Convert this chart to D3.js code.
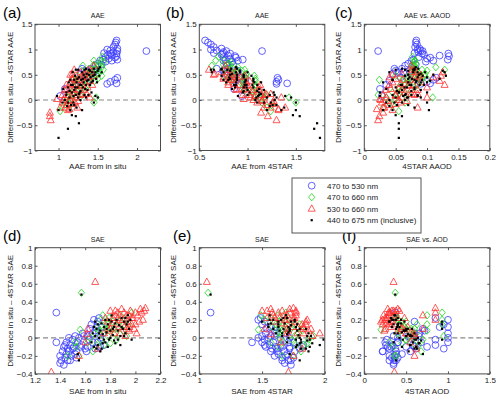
<!DOCTYPE html>
<html>
<head>
<meta charset="utf-8">
<script src="https://cdn.jsdelivr.net/npm/d3@7"></script>
<style>
  body { margin: 0; background: #fff; }
  svg { display: block; font-family: "Liberation Sans", Arial, sans-serif; }
  .tick text { font-size: 8px; fill: #1a1a1a; }
</style>
</head>
<body>
<div id="chart"></div>
<script>
// top row rows: [AAE in situ, difference (in situ - 4STAR), 4STAR AAOD]
const aaeBlue = [
  [1.74,1.18,0.083],[1.73,1.14,0.082],[1.72,1.10,0.084],[1.70,1.05,0.081],[1.75,1.02,0.088],
  [1.62,1.00,0.085],[1.66,0.98,0.09],[1.75,0.97,0.093],[1.70,0.95,0.086],[1.58,0.93,0.08],
  [1.74,0.92,0.134],[1.63,0.90,0.095],[1.68,0.88,0.12],[1.74,0.87,0.135],[1.60,0.85,0.087],
  [1.72,0.84,0.105],[1.64,0.82,0.1],[1.75,0.80,0.133],[1.57,0.80,0.078],[1.68,0.78,0.11],
  [1.60,0.76,0.098],[1.66,0.92,0.092],[2.12,0.97,0.022],
  [1.62,0.32,0.09],[1.66,0.36,0.1],[1.72,0.40,0.11],[1.75,0.44,0.115],[1.74,0.33,0.105],
  [1.08,0.22,0.025],[1.02,0.08,0.028],
  [1.30,0.62,0.048],[1.33,0.58,0.05],[1.28,0.52,0.045],[1.38,0.55,0.055],[1.42,0.62,0.06],
  [1.47,0.68,0.065],[1.50,0.72,0.07],[1.53,0.78,0.075],[1.45,0.55,0.062],[1.36,0.45,0.058],
  [1.25,0.38,0.04],[1.40,0.42,0.07],[1.22,0.30,0.035],[1.48,0.58,0.072],[1.55,0.70,0.082]
];
const aaeGreen = [
  [1.02,-0.22,0.055],[1.05,-0.15,0.03],[1.10,-0.05,0.04],[1.12,0.05,0.035],[1.15,0.15,0.045],
  [1.18,0.10,0.05],[1.20,0.25,0.055],[1.22,0.05,0.06],[1.25,0.30,0.065],[1.27,0.20,0.06],
  [1.30,0.35,0.07],[1.32,0.45,0.068],[1.35,0.40,0.075],[1.37,0.52,0.08],[1.40,0.45,0.072],
  [1.42,0.60,0.078],[1.44,0.55,0.085],[1.45,0.70,0.077],[1.47,0.62,0.083],[1.48,0.50,0.09],
  [1.50,0.68,0.08],[1.52,0.58,0.1],[1.53,0.72,0.082],[1.55,0.65,0.114],[1.57,0.60,0.128],
  [1.58,0.75,0.079],[1.55,0.48,0.095],[1.50,0.42,0.1],[1.46,0.38,0.09],[1.38,0.30,0.085],
  [1.33,0.25,0.08],[1.28,0.12,0.07],[1.31,0.68,0.076],[1.45,0.78,0.08],[1.56,0.86,0.077],
  [1.30,0.10,0.022],[1.18,0.40,0.024],[1.24,0.48,0.05],[1.48,0.05,0.109],
  [1.45,-0.05,0.065],[1.15,-0.10,0.045],
  [1.21,0.38,0.06],[1.26,0.42,0.062],[1.34,0.55,0.074],[1.39,0.62,0.079],[1.43,0.45,0.086],
  [1.49,0.60,0.092],[1.51,0.52,0.097],[1.54,0.78,0.081],[1.23,0.18,0.058],[1.16,0.02,0.05]
];
const aaeRed = [
  [0.89,-0.25,0.03],[0.89,-0.32,0.024],[0.90,-0.40,0.022],[0.98,0.02,0.025],[1.15,0.50,0.045],
  [1.17,0.42,0.05],[1.20,0.45,0.04],[1.02,-0.15,0.03],[1.05,-0.05,0.028],[1.08,0.05,0.035],
  [1.10,-0.10,0.04],[1.12,0.10,0.05],[1.12,-0.20,0.045],[1.15,0.00,0.055],[1.16,0.20,0.06],
  [1.18,-0.08,0.05],[1.20,0.15,0.065],[1.22,0.30,0.07],[1.22,0.05,0.06],[1.25,0.20,0.075],
  [1.26,0.40,0.072],[1.28,0.10,0.08],[1.30,0.30,0.078],[1.30,0.45,0.08],[1.32,0.20,0.085],
  [1.34,0.35,0.09],[1.35,0.55,0.082],[1.37,0.25,0.1],[1.38,0.45,0.11],[1.40,0.38,0.12],
  [1.42,0.55,0.125],[1.43,0.30,0.128],[1.45,0.48,0.122],[1.25,-0.02,0.068],[1.18,0.32,0.058],
  [1.10,0.30,0.04],[1.08,0.20,0.035],[1.28,0.55,0.075],[1.33,0.50,0.09],[1.36,0.12,0.085],
  [1.24,-0.15,0.085],[1.14,-0.18,0.02],[1.20,0.60,0.075],[1.40,0.05,0.1],[1.15,0.35,0.045],
  [1.05,0.10,0.03],[1.45,0.68,0.075],
  [1.11,0.22,0.042],[1.13,-0.02,0.038],[1.16,0.08,0.05],[1.19,0.22,0.055],[1.21,-0.05,0.058],
  [1.23,0.40,0.062],[1.27,0.28,0.07],[1.29,0.48,0.082],[1.31,0.12,0.075],[1.34,0.45,0.088],
  [1.06,0.00,0.026],[1.09,-0.15,0.032],[1.18,0.52,0.06],[1.24,0.10,0.05],[1.38,0.60,0.08]
];
const aaeBlack = [
  [1.00,-0.75,0.055],[1.12,-0.57,0.055],[1.26,-0.46,0.055],[1.22,-0.32,0.06],[1.17,-0.30,0.05],
  [1.15,-0.20,0.045],[1.00,-0.20,0.03],[0.98,0.08,0.025],[1.05,-0.05,0.035],[1.30,-0.20,0.103],
  [1.23,-0.15,0.08],[1.45,-0.05,0.1],[1.50,0.05,0.09],[1.47,0.08,0.085],
  [1.08,0.00,0.04],[1.10,0.10,0.045],[1.12,0.25,0.05],[1.14,0.05,0.05],[1.15,0.40,0.045],
  [1.17,0.15,0.055],[1.18,0.30,0.06],[1.19,-0.05,0.06],[1.20,0.20,0.06],[1.21,0.48,0.065],
  [1.22,0.10,0.065],[1.23,0.35,0.07],[1.24,0.25,0.068],[1.25,0.05,0.07],[1.26,0.45,0.072],
  [1.27,0.30,0.075],[1.28,0.18,0.075],[1.29,0.40,0.08],[1.30,0.55,0.078],[1.31,0.25,0.08],
  [1.32,0.35,0.082],[1.33,0.10,0.085],[1.34,0.45,0.085],[1.35,0.30,0.088],[1.36,0.52,0.09],
  [1.37,0.20,0.09],[1.38,0.40,0.092],[1.39,0.60,0.08],[1.40,0.30,0.095],[1.41,0.45,0.1],
  [1.42,0.15,0.1],[1.43,0.55,0.085],[1.44,0.38,0.105],[1.45,0.62,0.08],[1.46,0.50,0.11],
  [1.48,0.42,0.12],[1.50,0.58,0.125],[1.52,0.48,0.13],[1.53,0.65,0.082],[1.55,0.55,0.128],
  [1.18,0.55,0.04],[1.13,0.35,0.03],[1.10,0.15,0.025],[1.25,0.60,0.05],[1.35,0.62,0.06],
  [1.16,-0.10,0.07],[1.28,0.00,0.065],[1.20,0.40,0.045],[1.32,0.50,0.07],[1.38,0.10,0.075],
  [1.40,0.58,0.07],[1.27,0.15,0.055],[1.22,0.60,0.065],[1.06,0.22,0.035],[1.35,0.05,0.068],
  [1.12,-0.05,0.048],[1.14,0.18,0.052],[1.16,0.30,0.058],[1.19,0.08,0.062],[1.21,0.25,0.064],
  [1.24,0.42,0.07],[1.26,0.12,0.066],[1.29,0.30,0.072],[1.31,0.42,0.076],[1.34,0.22,0.08],
  [1.36,0.38,0.083],[1.39,0.50,0.087],[1.42,0.35,0.09],[1.44,0.48,0.093],[1.47,0.55,0.097],
  [1.49,0.35,0.1],[1.51,0.62,0.086],[1.11,-0.12,0.04],[1.20,-0.10,0.052],[1.33,0.60,0.078]
];

// bottom row rows: [SAE in situ, difference (in situ - 4STAR), 4STAR AOD]
const saeBlue = [
  [1.37,0.28,0.37],[1.37,-0.05,0.4],[1.40,-0.20,0.3],[1.40,-0.28,0.35],[1.41,-0.25,0.36],
  [1.42,-0.15,0.22],[1.43,-0.10,0.28],[1.44,-0.22,0.33],[1.45,-0.05,0.25],[1.45,-0.18,0.38],
  [1.46,-0.12,0.3],[1.47,0.00,0.4],[1.48,-0.08,0.34],[1.49,-0.20,0.36],[1.50,-0.02,0.27],
  [1.51,-0.10,0.32],[1.52,0.02,0.35],[1.53,-0.15,0.38],[1.54,-0.05,0.4],[1.55,0.00,0.55],
  [1.57,-0.08,0.58],[1.58,0.05,0.6],[1.60,-0.12,0.62],[1.62,0.02,0.65],[1.64,0.10,0.7],
  [1.66,-0.05,0.68],[1.68,0.08,0.72],[1.70,0.18,0.6],[1.71,0.22,0.85],[1.72,-0.10,0.75],
  [1.73,0.12,1.0],[1.74,0.05,1.0],[1.72,0.00,1.0],[1.70,-0.05,1.0],[1.68,-0.12,0.95],
  [1.65,0.15,0.95],[1.75,-0.08,0.85],[1.63,-0.02,0.85],[1.61,-0.15,0.55],[1.56,-0.10,0.5],
  [1.48,-0.25,0.38],[1.43,-0.30,0.35],[1.52,-0.18,0.45],[1.59,0.02,0.52],[1.67,0.20,1.0],
  [1.44,-0.08,0.26],[1.46,-0.25,0.3],[1.50,-0.12,0.37],[1.53,-0.22,0.4],[1.47,-0.15,0.22],
  [1.62,-0.10,0.6],[1.66,0.05,0.66],[1.69,0.12,0.9]
];
const saeGreen = [
  [1.57,0.50,0.37],[1.56,0.09,0.2],[1.52,-0.05,0.3],[1.55,-0.20,0.38],[1.46,-0.20,0.36],
  [1.53,-0.10,0.35],[1.68,0.05,0.4],[1.70,0.12,0.45],[1.72,-0.02,0.5],[1.74,0.08,0.55],
  [1.76,0.15,0.42],[1.78,0.02,0.58],[1.80,0.10,0.6],[1.82,0.18,0.5],[1.84,0.05,0.62],
  [1.86,0.12,0.48],[1.88,0.25,0.75],[1.90,0.08,0.75],[1.92,0.20,0.93],[1.95,0.15,0.93],
  [1.97,0.28,0.93],[1.93,0.02,0.95],[1.75,-0.08,0.65],[1.72,0.20,0.4],[1.78,0.15,0.75],
  [1.66,-0.15,0.68],[1.62,-0.05,0.55],[1.85,-0.02,0.7],[1.80,-0.06,0.45],[1.74,0.25,0.38],
  [1.71,0.08,0.43],[1.77,0.10,0.5],[1.79,0.22,0.38],[1.83,0.10,0.56],[1.87,0.18,0.45],
  [1.69,-0.08,0.6],[1.64,0.00,0.52],[1.91,0.15,0.63]
];
const saeRed = [
  [1.68,0.62,0.35],[1.33,-0.38,0.36],[1.60,-0.05,0.55],[1.61,0.04,0.6],[1.55,-0.20,0.6],
  [1.62,0.10,0.45],[1.75,0.05,0.5],[1.78,0.18,0.3],[1.80,0.10,0.25],[1.82,0.22,0.28],
  [1.85,0.15,0.22],[1.86,0.28,0.3],[1.88,0.05,0.5],[1.90,0.20,0.25],[1.91,0.12,0.32],
  [1.93,0.25,0.35],[1.94,0.18,0.2],[1.95,0.08,0.4],[1.96,0.30,0.38],[1.98,0.22,0.27],
  [2.00,0.15,0.3],[2.02,0.25,0.23],[2.04,0.32,0.4],[2.05,0.28,0.85],[2.06,0.20,0.85],
  [2.07,0.30,0.42],[2.08,0.33,0.85],[1.99,0.10,0.7],[1.92,0.02,0.6],[1.87,0.12,0.45],
  [1.83,0.05,0.55],[1.80,0.30,0.35],[1.97,0.22,0.25],[2.03,0.18,0.33],[1.89,0.32,0.28],
  [1.76,0.22,0.48],[1.84,0.25,0.7],[1.95,0.12,0.52],[2.01,0.05,0.58],[1.70,-0.12,0.62],
  [1.79,0.08,0.24],[1.81,0.16,0.26],[1.84,0.30,0.33],[1.88,0.20,0.22],[1.91,0.28,0.29],
  [1.93,0.10,0.44],[1.97,0.15,0.36],[2.00,0.28,0.31],[1.86,0.22,0.4],[1.95,0.25,0.3]
];
const saeBlack = [
  [1.57,0.48,0.37],[1.55,-0.25,0.38],[1.54,-0.18,0.7],[1.65,-0.05,0.35],[1.66,0.05,0.4],
  [1.67,-0.10,0.45],[1.68,0.02,0.5],[1.69,0.10,0.38],[1.70,-0.08,0.55],[1.71,0.00,0.42],
  [1.72,0.08,0.48],[1.73,-0.12,0.6],[1.74,0.04,0.52],[1.75,0.12,0.33],[1.76,-0.05,0.58],
  [1.77,0.06,0.45],[1.78,0.15,0.35],[1.79,-0.02,0.62],[1.80,0.08,0.5],[1.81,0.18,0.3],
  [1.82,0.03,0.55],[1.83,0.12,0.42],[1.84,-0.06,0.65],[1.85,0.20,0.35],[1.86,0.08,0.47],
  [1.87,0.14,0.4],[1.88,0.02,0.57],[1.89,0.22,0.32],[1.90,0.10,0.5],[1.91,0.18,0.93],
  [1.92,0.05,0.6],[1.93,0.15,0.93],[1.94,0.25,0.36],[1.95,0.10,0.93],[1.96,0.20,0.44],
  [1.97,-0.02,0.93],[1.72,-0.15,0.53],[1.78,-0.10,0.62],[1.83,-0.03,0.68],[1.76,0.20,0.38],
  [1.70,0.15,0.4],[1.88,-0.08,0.55],[1.92,0.22,0.4],[1.67,0.12,0.33],[1.81,0.25,0.37],
  [1.68,0.18,0.3],[1.71,0.05,0.36],[1.73,0.16,0.41],[1.75,-0.02,0.46],[1.77,0.10,0.52],
  [1.79,0.20,0.33],[1.82,0.10,0.57],[1.84,0.16,0.44],[1.86,-0.02,0.6],[1.89,0.12,0.39],
  [1.91,0.02,0.55],[1.94,0.18,0.48],[1.69,-0.12,0.63],[1.74,-0.06,0.66],[1.80,0.00,0.64]
];

const seriesNames = ['470 to 530 nm', '470 to 660 nm', '530 to 660 nm', '440 to 675 nm (inclusive)'];
const aaeTicks = [-1, -0.5, 0, 0.5, 1, 1.5];
const saeTicks = [-0.4, -0.2, 0, 0.2, 0.4, 0.6, 0.8, 1];

const styles = [
  {shape: 'circle', color: '#3b3bff'},
  {shape: 'diamond', color: '#1fd81f'},
  {shape: 'triangle', color: '#ff3030'},
  {shape: 'dot', color: '#000'}
];

const topSets = [aaeBlue, aaeGreen, aaeRed, aaeBlack];
const botSets = [saeBlue, saeGreen, saeRed, saeBlack];

// x accessor: 0 = in situ, 1 = 4STAR (in situ minus difference), 2 = AOD/AAOD
const getX = [d => d[0], d => d[0] - d[1], d => d[2]];

const panels = [
  {tag: '(a)', tagX: 3, title: 'AAE', xlab: 'AAE from in situ', sets: topSets, xi: 0, xd: [0.7, 2.3], xt: [1, 1.5, 2], yd: [-1, 1.5], yt: aaeTicks, ylab: 'Difference in situ – 4STAR AAE', col: 0, row: 0},
  {tag: '(b)', tagX: 166, title: 'AAE', xlab: 'AAE from 4STAR', sets: topSets, xi: 1, xd: [0.5, 1.8], xt: [0.5, 1, 1.5], yd: [-1, 1.5], yt: aaeTicks, ylab: 'Difference in situ – 4STAR AAE', col: 1, row: 0},
  {tag: '(c)', tagX: 335, title: 'AAE vs. AAOD', xlab: '4STAR AAOD', sets: topSets, xi: 2, xd: [0, 0.2], xt: [0, 0.05, 0.1, 0.15, 0.2], yd: [-1, 1.5], yt: aaeTicks, ylab: 'Difference in situ – 4STAR AAE', col: 2, row: 0},
  {tag: '(d)', tagX: 3, title: 'SAE', xlab: 'SAE from in situ', sets: botSets, xi: 0, xd: [1.2, 2.2], xt: [1.2, 1.4, 1.6, 1.8, 2, 2.2], yd: [-0.4, 1], yt: saeTicks, ylab: 'Difference in situ – 4STAR SAE', col: 0, row: 1},
  {tag: '(e)', tagX: 173, title: 'SAE', xlab: 'SAE from 4STAR', sets: botSets, xi: 1, xd: [1, 2], xt: [1, 1.5, 2], yd: [-0.4, 1], yt: saeTicks, ylab: 'Difference in situ – 4STAR SAE', col: 1, row: 1},
  {tag: '(f)', tagX: 342, title: 'SAE vs. AOD', xlab: '4STAR AOD', sets: botSets, xi: 2, xd: [0, 1.5], xt: [0, 0.5, 1, 1.5], yd: [-0.4, 1], yt: saeTicks, ylab: 'Difference in situ – 4STAR SAE', col: 2, row: 1}
];

const lefts = [35, 199.3, 364.3];
const plotW = 125.5;
const tops = [24.3, 247.7];
const plotH = 126.2;
const ylabX = [10, 173.5, 338.5];
const xlabDy = [18, 20.5];

const svg = d3.select('#chart').append('svg')
    .attr('width', 500)
    .attr('height', 399);

const fmt = v => String(v).replace('-', '−');

function marker(g, shape, color, x, y) {
  if (shape === 'circle') {
    g.append('circle').attr('cx', x).attr('cy', y).attr('r', 3.4)
        .attr('fill', 'none').attr('stroke', color).attr('stroke-width', 0.8);
  } else if (shape === 'diamond') {
    g.append('path').attr('d', `M${x},${y - 3.7}L${x + 3.1},${y}L${x},${y + 3.7}L${x - 3.1},${y}Z`)
        .attr('fill', 'none').attr('stroke', color).attr('stroke-width', 0.8);
  } else if (shape === 'triangle') {
    g.append('path').attr('d', `M${x},${y - 3.9}L${x + 3.5},${y + 2.5}L${x - 3.5},${y + 2.5}Z`)
        .attr('fill', 'none').attr('stroke', color).attr('stroke-width', 0.8);
  } else {
    g.append('rect').attr('x', x - 1.1).attr('y', y - 1.1).attr('width', 2.2).attr('height', 2.2)
        .attr('fill', color);
  }
}

panels.forEach(p => {
  const x0 = lefts[p.col];
  const y0 = tops[p.row];
  const x = d3.scaleLinear().domain(p.xd).range([x0, x0 + plotW]);
  const y = d3.scaleLinear().domain(p.yd).range([y0 + plotH, y0]);
  const g = svg.append('g');

  g.append('rect')
      .attr('x', x0).attr('y', y0).attr('width', plotW).attr('height', plotH)
      .attr('fill', '#fff');

  // zero reference line
  g.append('line')
      .attr('x1', x0).attr('x2', x0 + plotW)
      .attr('y1', y(0)).attr('y2', y(0))
      .attr('stroke', '#8a8a8a').attr('stroke-width', 1.2)
      .attr('stroke-dasharray', '5,3');

  // points, clipped to the box
  const clipId = 'clip' + p.tag.replace(/[()]/g, '');
  svg.append('clipPath').attr('id', clipId).append('rect')
      .attr('x', x0).attr('y', y0).attr('width', plotW).attr('height', plotH);
  const pts = g.append('g').attr('clip-path', `url(#${clipId})`);
  p.sets.forEach((set, i) => {
    set.forEach(d => marker(pts, styles[i].shape, styles[i].color, x(getX[p.xi](d)), y(d[1])));
  });

  // axes with inward ticks on all four sides
  const axes = [
    [d3.axisBottom(x).tickValues(p.xt).tickFormat(fmt), `translate(0,${y0 + plotH})`, 3.5],
    [d3.axisTop(x).tickValues(p.xt).tickFormat(''), `translate(0,${y0})`, 2.5],
    [d3.axisLeft(y).tickValues(p.yt).tickFormat(fmt), `translate(${x0},0)`, 2.5],
    [d3.axisRight(y).tickValues(p.yt).tickFormat(''), `translate(${x0 + plotW},0)`, 2.5]
  ];
  axes.forEach(([ax, tr, pad]) => {
    const a = g.append('g').attr('transform', tr)
        .call(ax.tickSizeInner(-2.5).tickSizeOuter(0).tickPadding(pad));
    a.select('.domain').remove();
    a.selectAll('.tick line').attr('stroke', '#555');
  });

  g.append('rect')
      .attr('x', x0).attr('y', y0).attr('width', plotW).attr('height', plotH)
      .attr('fill', 'none').attr('stroke', '#4a4a4a').attr('stroke-width', 1);

  g.append('text')
      .attr('x', x0 + plotW / 2).attr('y', y0 - 6)
      .attr('text-anchor', 'middle')
      .attr('font-size', 7).attr('fill', '#1a1a1a')
      .text(p.title);

  g.append('text')
      .attr('x', x0 + plotW / 2).attr('y', y0 + plotH + xlabDy[p.row])
      .attr('text-anchor', 'middle')
      .attr('font-size', 8).attr('fill', '#1a1a1a')
      .text(p.xlab);

  g.append('text')
      .attr('transform', `translate(${ylabX[p.col]},${y0 + plotH / 2}) rotate(-90)`)
      .attr('text-anchor', 'middle').attr('dy', '0.35em')
      .attr('font-size', 8).attr('fill', '#1a1a1a')
      .text(p.ylab);

  g.append('text')
      .attr('x', p.tagX).attr('y', y0 - 6.5)
      .attr('font-size', 15).attr('fill', '#000')
      .text(p.tag);
});

// legend
const leg = svg.append('g');
leg.append('rect')
    .attr('x', 292).attr('y', 178).attr('width', 129).attr('height', 55)
    .attr('fill', '#fff').attr('stroke', '#555').attr('stroke-width', 1);
seriesNames.forEach((name, i) => {
  const ly = 185.7 + i * 11.5;
  marker(leg, styles[i].shape, styles[i].color, 311.7, ly);
  leg.append('text')
      .attr('x', 327).attr('y', ly).attr('dy', '0.35em')
      .attr('font-size', 8).attr('fill', '#1a1a1a')
      .text(name);
});
</script>
</body>
</html>
